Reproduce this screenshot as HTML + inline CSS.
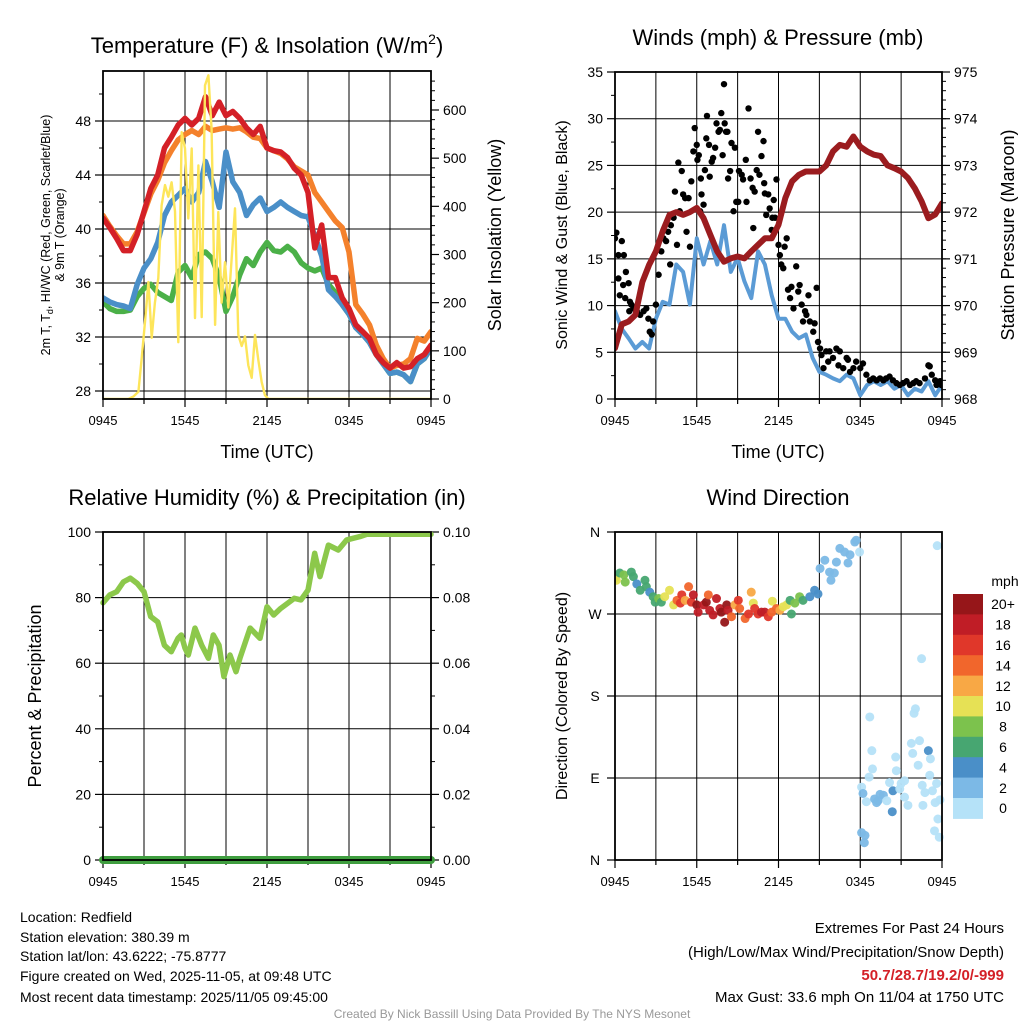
<!DOCTYPE html>
<html><head><meta charset="utf-8"><style>
html,body{margin:0;padding:0;background:#fff}
svg{display:block;font-family:"Liberation Sans",Arial,sans-serif}
</style></head><body>
<svg id="fig" width="1024" height="1024" viewBox="0 0 1024 1024" xmlns="http://www.w3.org/2000/svg">
<rect width="1024" height="1024" fill="#fff"/>
<g id="layer"></g>
<g fill="#000">
<text x="267" y="53" font-size="22" text-anchor="middle">Temperature (F) &amp; Insolation (W/m<tspan dy="-9" font-size="14">2</tspan><tspan dy="9">)</tspan></text>
<text x="778" y="45" font-size="22" text-anchor="middle">Winds (mph) &amp; Pressure (mb)</text>
<text x="267" y="505" font-size="22" text-anchor="middle">Relative Humidity (%) &amp; Precipitation (in)</text>
<text x="778" y="505" font-size="22" text-anchor="middle">Wind Direction</text>
<text x="267" y="458" font-size="18" text-anchor="middle">Time (UTC)</text>
<text x="778" y="458" font-size="18" text-anchor="middle">Time (UTC)</text>
<text font-size="12.5" text-anchor="middle" transform="translate(50,235) rotate(-90)">2m T, T<tspan dy="3" font-size="9">d</tspan><tspan dy="-3">, HI/WC (Red, Green, Scarlet/Blue)</tspan></text>
<text font-size="12.5" text-anchor="middle" transform="translate(64,235) rotate(-90)">&amp; 9m T (Orange)</text>
<text font-size="18" text-anchor="middle" transform="translate(501,235) rotate(-90)">Solar Insolation (Yellow)</text>
<text font-size="16" text-anchor="middle" transform="translate(567,235) rotate(-90)">Sonic Wind &amp; Gust (Blue, Black)</text>
<text font-size="18" text-anchor="middle" transform="translate(1014,235) rotate(-90)">Station Pressure (Maroon)</text>
<text font-size="18" text-anchor="middle" transform="translate(41,696) rotate(-90)">Percent &amp; Precipitation</text>
<text font-size="16" text-anchor="middle" transform="translate(567,696) rotate(-90)">Direction (Colored By Speed)</text>
</g>
<g font-size="14" fill="#000">
<text x="20" y="922">Location: Redfield</text>
<text x="20" y="942">Station elevation: 380.39 m</text>
<text x="20" y="961">Station lat/lon: 43.6222; -75.8777</text>
<text x="20" y="981">Figure created on Wed, 2025-11-05, at 09:48 UTC</text>
<text x="20" y="1002">Most recent data timestamp: 2025/11/05 09:45:00</text>
</g>
<g text-anchor="end" fill="#000">
<text x="1004" y="933" font-size="15">Extremes For Past 24 Hours</text>
<text x="1004" y="957" font-size="15">(High/Low/Max Wind/Precipitation/Snow Depth)</text>
<text x="1004" y="980" font-size="15" font-weight="bold" fill="#d42027">50.7/28.7/19.2/0/-999</text>
<text x="1004" y="1002" font-size="15">Max Gust: 33.6 mph On 11/04 at 1750 UTC</text>
</g>
<text x="512" y="1018" font-size="12" fill="#999" text-anchor="middle">Created By Nick Bassill Using Data Provided By The NYS Mesonet</text>
</svg>
<script>
// ---------- data ----------
const hours = [0,0.5,1,1.5,2,2.5,3,3.5,4,4.5,5,5.5,6,6.5,7,7.5,8,8.5,9,9.5,10,10.5,11,11.5,12,12.5,13,13.5,14,14.5,15,15.5,16,16.5,17,17.5,18,18.5,19,19.5,20,20.5,21,21.5,22,22.5,23,23.5,24];
const timeLabels = ["0945","1545","2145","0345","0945"];
const tempRed = [40.8,40.1,39.3,38.4,38.4,39.6,41.3,43.0,44.0,46.0,46.8,47.7,48.2,47.7,48.2,49.8,48.4,49.4,48.4,48.7,48.2,47.5,47.0,47.6,46.0,45.8,45.7,45.3,44.5,44.0,42.7,38.6,40.3,36.4,36.4,34.9,34.1,32.9,32.4,31.9,30.7,30.1,29.7,30.1,29.7,29.8,30.4,30.7,31.4];
const temp9mOrange = [41.0,40.2,39.5,38.9,38.9,39.8,41.2,42.6,43.6,44.9,45.8,46.6,47.0,47.3,47.0,47.6,47.3,47.4,47.5,47.4,47.5,47.2,46.8,46.7,46.0,45.8,45.6,45.2,44.6,44.3,44.0,42.7,42.0,41.3,40.6,40.1,38.3,34.4,33.7,32.9,31.4,30.4,29.7,29.9,30.0,30.4,31.9,31.7,32.4];
const dewGreen = [34.6,34.1,33.9,33.9,34.0,35.0,35.6,35.9,35.3,35.0,34.7,36.8,37.3,36.4,38.1,38.3,37.8,36.4,33.9,35.0,36.6,37.8,37.3,38.3,39.0,38.4,38.3,38.7,38.3,37.5,37.1,36.9,37.1,35.9,35.3,34.4,33.7,32.7,32.2,31.6,30.7,30.0,29.3,29.4,29.2,28.7,30.0,30.4,31.2];
const hiwcBlue = [34.9,34.6,34.4,34.3,34.1,35.9,37.1,37.8,39.0,41.0,42.0,42.5,43.0,42.0,42.7,45.0,43.5,41.6,45.7,43.5,42.7,41.0,41.8,42.3,41.3,41.6,42.0,41.6,41.3,41.0,40.9,39.5,38.0,35.5,35.0,34.4,33.7,32.7,32.2,31.6,30.7,30.0,29.3,29.4,29.2,28.7,30.0,30.4,31.2];
const insTimes = [0,1.85,2.22,2.59,2.83,3.07,3.32,3.56,3.8,4.05,4.29,4.54,4.78,5.02,5.27,5.51,5.76,6.0,6.24,6.49,6.73,6.98,7.22,7.46,7.71,7.95,8.2,8.44,8.68,8.93,9.17,9.41,9.66,9.9,10.15,10.39,10.63,10.88,11.12,11.37,11.61,11.85,12.1,24];
const insolation = [0,0,5,15,85,160,243,127,200,251,402,444,420,450,390,118,554,520,375,520,168,485,170,651,672,560,154,388,200,284,190,290,396,133,110,130,70,44,133,80,35,8,0,0];
const windSpeed = [9.4,7.5,6.5,5.4,6.1,5.4,8.6,10.4,10.1,14.4,13.6,10.1,17.2,14.4,16.9,14.4,18.6,13.6,15.1,12.6,10.8,15.8,14.4,11.1,8.6,8.6,7.2,6.5,6.9,4.4,2.9,2.6,2.2,1.9,2.6,2.2,0.4,1.5,1.9,1.5,1.9,1.1,1.5,0.4,1.1,0.8,1.9,0.4,1.5];
const pressure = [969.09,969.6,969.66,969.8,970.5,970.87,971.16,971.59,971.94,972.0,971.94,972.0,972.09,971.87,971.51,971.16,970.94,971.01,971.05,971.01,971.16,971.3,971.44,971.44,971.73,972.3,972.66,972.8,972.87,972.87,972.87,973.0,973.3,973.44,973.4,973.62,973.4,973.3,973.23,973.2,973.0,972.94,972.87,972.73,972.51,972.23,971.87,971.95,972.19];
const gustTimes = [0.0,0.1,0.25,0.5,0.65,0.25,0.6,0.8,1.0,0.35,0.75,1.1,1.2,1.35,1.6,1.05,1.85,2.1,2.3,2.45,2.55,2.7,2.8,3.0,3.2,3.4,3.55,3.75,3.9,4.05,4.1,4.3,4.4,4.55,4.65,4.75,4.9,5.0,5.15,5.25,5.4,5.5,5.6,5.75,5.85,6.0,6.05,6.15,6.25,6.3,6.35,6.5,6.6,6.7,6.75,6.9,6.95,7.1,7.2,7.35,7.45,7.6,7.7,7.8,7.9,8.0,8.05,8.15,8.25,8.3,8.45,8.55,8.7,8.8,8.9,9.05,9.1,9.3,9.4,9.6,9.65,9.8,9.95,10.1,10.15,10.25,10.4,10.5,10.6,10.75,10.9,10.95,11.0,11.1,11.25,11.35,11.5,11.55,11.65,11.75,11.85,12.0,12.1,12.2,12.35,12.45,12.6,12.7,12.85,12.95,13.1,13.3,13.45,13.55,13.7,13.8,13.95,14.05,14.2,14.3,14.55,14.65,14.8,14.9,15.05,15.15,15.3,15.5,15.65,15.75,16.0,16.25,16.4,16.5,16.75,17.0,17.1,17.25,17.5,17.7,18.0,18.2,18.45,18.7,18.95,19.2,19.45,19.7,19.9,20.15,20.4,20.65,20.9,21.15,21.4,21.65,21.9,22.1,22.35,22.75,23.0,23.1,23.25,23.5,23.6,23.85,23.95];
const gustValues = [17.2,17.8,15.4,16.9,15.4,12.9,12.2,13.6,12.4,11.1,10.8,10.4,10.1,9.7,9.4,9.4,9.0,9.4,9.7,8.6,7.2,6.9,8.3,10.1,13.3,15.8,17.2,16.9,17.9,14.4,18.6,19.4,22.2,16.5,25.3,20.1,24.4,21.9,21.5,17.9,21.5,16.3,23.3,26.5,29.0,27.2,25.6,26.1,20.1,23.6,21.9,20.8,24.5,27.9,30.3,27.2,23.8,25.4,25.8,26.9,29.5,28.6,28.8,30.6,26.1,33.7,29.5,28.6,28.6,23.6,24.4,27.4,20.1,26.9,21.1,21.1,24.4,24.0,23.5,25.6,21.1,31.1,23.6,22.6,18.3,22.2,24.5,28.6,24.0,26.0,27.6,23.1,22.0,19.7,21.9,20.4,18.1,19.4,21.3,19.4,23.5,16.5,15.4,14.4,14.0,16.3,17.2,11.7,10.8,12.0,9.7,14.2,11.5,12.2,10.1,8.3,9.4,9.0,11.1,8.3,7.2,8.1,11.9,6.1,5.4,4.7,3.3,5.1,4.0,5.1,4.4,5.4,3.6,5.1,3.3,4.4,4.2,2.9,3.3,4.0,3.3,3.8,2.6,2.0,2.2,2.0,2.2,2.0,2.2,2.4,2.0,1.7,1.5,1.7,1.9,1.5,1.7,1.9,1.7,2.2,3.6,3.5,2.6,2.0,1.5,1.9,1.5];
const rhTimes = [0,0.49,1,1.49,2,2.51,3,3.49,4,4.49,5,5.49,5.73,6,6.24,6.73,7.22,7.71,8.07,8.49,8.85,9.29,9.73,10.02,10.76,11.49,12,12.49,13,14,14.49,15,15.49,15.88,16.49,17.22,17.83,18.8,19.3,24];
const rhValues = [78.4,80.8,81.8,84.8,85.9,84.3,81.8,74.2,72.6,65.5,63.5,67.6,68.6,64.6,62.5,70.7,65.5,61.5,68.6,65.5,55.9,62.5,57.4,61.5,70.7,67.6,77.2,74.7,76.7,79.8,79.3,82.3,93.5,86.4,96.0,94.5,97.6,98.6,99.3,99.3];
const precipTimes = [0,24];
const precipValues = [0,0];
const dirTimes = [0,0.1,0.35,0.65,0.75,1.2,1.35,1.6,1.85,2.2,2.3,2.55,2.8,2.95,3.2,3.4,3.65,4.0,4.3,4.55,4.8,4.9,5.15,5.4,5.6,5.75,6.0,6.1,6.5,6.7,6.85,6.95,7.2,7.45,7.7,7.8,8.05,8.2,8.3,8.55,8.8,9.05,9.15,9.55,9.8,10.0,10.15,10.25,10.5,10.75,11.0,11.25,11.5,11.55,11.85,12.1,12.35,12.6,12.85,12.95,13.2,13.55,13.8,14.3,14.65,14.9,15.05,15.4,15.75,15.85,16.1,16.25,16.5,16.85,17.25,17.1,17.6,17.7,17.95,18.1,18.2,18.7,18.85,18.9,18.45,18.65,19.05,19.3,19.7,19.45,19.95,20.15,20.4,20.35,20.6,20.65,20.9,21.0,21.25,21.25,21.5,21.75,21.85,21.95,22.05,22.25,22.35,22.5,22.55,22.6,22.75,23.0,23.1,23.15,23.3,23.5,23.6,23.65,23.7,23.8,23.85,23.45,18.1,18.35,18.3,19.2];
const dirValues = [309,307,315,313,305,316,311,303,296,307,300,294,289,283,287,283,289,296,280,285,282,291,285,300,283,291,280,272,280,283,291,274,269,287,276,272,261,280,274,267,280,285,276,265,270,294,282,276,270,272,272,267,272,284,276,274,278,280,285,270,282,289,285,289,296,292,320,329,316,307,315,327,342,338,335,326,349,351,338,80,73,157,120,100,64,91,67,65,71,72,65,85,76,53,113,98,78,84,87,69,60,128,117,161,166,104,131,221,82,60,74,120,93,111,76,63,84,345,45,25,66,32,30,27,19,63];
const dirSpeeds = [8,10,6,8,8,6,6,4,6,6,6,4,6,6,8,6,10,10,10,14,16,16,12,14,16,18,20,18,18,20,14,18,18,18,18,20,20,20,18,14,12,16,14,14,16,12,10,16,16,18,18,16,14,10,14,12,10,10,6,6,8,8,6,4,4,4,2,2,2,2,2,2,2,2,2,2,2,2,0,0,2,0,0,0,0,0,2,2,2,2,0,0,4,4,0,0,0,0,0,0,0,0,0,0,0,0,0,0,0,0,0,4,0,0,0,0,0,0,0,0,0,0,2,2,2,2];
const speedBins = ["0","2","4","6","8","10","12","14","16","18","20+"];
const speedColors = ["#b5e2f8","#7cb9e6","#4a8fc8","#47a671","#7cc24d","#e6e155","#f8a845","#f1662c","#e0372a","#c01d26","#961619"];

// ---------- helpers ----------
const NS="http://www.w3.org/2000/svg";
const layer=document.getElementById('layer');
function mk(tag,attrs,parent){const e=document.createElementNS(NS,tag);for(const k in attrs)e.setAttribute(k,attrs[k]);(parent||layer).appendChild(e);return e;}
function lin(d0,d1,r0,r1){return v=>r0+(v-d0)*(r1-r0)/(d1-d0);}
function txt(x,y,s,size,anchor,parent){const t=mk('text',{x:x,y:y,'font-size':size,'text-anchor':anchor||'middle',fill:'#000'},parent);t.textContent=s;return t;}

function panel(name){
  const g=mk('g',{});
  
  
  return g;
}
function xAxis(g,X0,X1,Y1){
  const x=lin(0,24,X0,X1);
  for(let h=0;h<=24;h+=3){
    if(h>0&&h<24){const gl=mk('line',{x1:x(h),x2:x(h),y1:Y1,y2:Y1-328,stroke:'#000','stroke-width':1},g);}
    const tk=mk('line',{x1:x(h),x2:x(h),y1:Y1,y2:Y1+(h%6===0?8:5),stroke:'#000','stroke-width':1.2},g);
    
  }
  timeLabels.forEach((l,i)=>{const t=txt(x(i*6),Y1+26,l,13,'middle',g);});
  return x;
}
function yAxisLeft(g,scale,X0,X1,major,minor,fmt,grid){
  major.forEach(v=>{
    if(grid){const gl=mk('line',{x1:X0,x2:X1,y1:scale(v),y2:scale(v),stroke:'#000','stroke-width':1},g);}
    mk('line',{x1:X0-8,x2:X0,y1:scale(v),y2:scale(v),stroke:'#000','stroke-width':1.2},g);
    const t=txt(X0-12,scale(v)+5,fmt(v),14,'end',g);
  });
  minor.forEach(v=>mk('line',{x1:X0-4,x2:X0,y1:scale(v),y2:scale(v),stroke:'#000','stroke-width':1},g));
}
function yAxisRight(g,scale,X1,major,minor,fmt){
  major.forEach(v=>{
    mk('line',{x1:X1,x2:X1+8,y1:scale(v),y2:scale(v),stroke:'#000','stroke-width':1.2},g);
    const t=txt(X1+12,scale(v)+5,fmt(v),14,'start',g);
  });
  minor.forEach(v=>mk('line',{x1:X1,x2:X1+4,y1:scale(v),y2:scale(v),stroke:'#000','stroke-width':1},g));
}
function line(g,xs,ys,xf,yf,color,w,name){
  const p=mk('path',{d:xs.map((h,i)=>(i?'L':'M')+xf(h).toFixed(1)+','+yf(ys[i]).toFixed(1)).join(''),fill:'none',stroke:color,'stroke-width':w,'stroke-linejoin':'round','stroke-linecap':'round'},g);
  
  return p;
}
function frame(g,X0,X1,Y0,Y1){
  const r=mk('rect',{x:X0,y:Y0,width:X1-X0,height:Y1-Y0,fill:'none',stroke:'#000','stroke-width':1.8},g);
  
}
function range(a,b,s){const r=[];for(let v=a;v<=b+1e-9;v+=s)r.push(+v.toFixed(4));return r;}

// ---------- panel 1 ----------
(function(){
  const X0=103,X1=431,Y0=71,Y1=399;
  const g=panel('temperature-panel');
  const yT=lin(28,48,391,121);
  const yI=lin(0,600,399,110);
  yAxisLeft(g,yT,X0,X1,[28,32,36,40,44,48],range(30,50,2).filter(v=>v%4!==0),v=>String(v),true);
  yAxisRight(g,yI,X1,[0,100,200,300,400,500,600],range(20,660,20).filter(v=>v%100!==0),v=>String(v));
  const x=xAxis(g,X0,X1,Y1);
  const clip=mk('clipPath',{id:'c1'},g);mk('rect',{x:X0,y:Y0,width:X1-X0,height:Y1-Y0},clip);
  const d=mk('g',{'clip-path':'url(#c1)'},g);
  line(d,hours,temp9mOrange,x,yT,'#f4812c',5.5,'temp-9m-orange-line');
  line(d,hours,dewGreen,x,yT,'#4bb048',5.5,'dewpoint-green-line');
  line(d,hours,hiwcBlue,x,yT,'#4a8fc8',5.5,'hiwc-blue-line');
  line(d,hours,tempRed,x,yT,'#d42027',5.5,'temp-2m-red-line');
  line(d,insTimes,insolation,x,yI,'#fde55a',2.4,'insolation-yellow-line');
  frame(g,X0,X1,Y0,Y1);
})();

// ---------- panel 2 ----------
(function(){
  const X0=615,X1=942,Y0=72,Y1=399;
  const g=panel('wind-panel');
  const yW=lin(0,35,399,72);
  const yP=lin(968,975,399,72);
  yAxisLeft(g,yW,X0,X1,[0,5,10,15,20,25,30,35],range(2.5,32.5,5),v=>String(v),true);
  yAxisRight(g,yP,X1,[968,969,970,971,972,973,974,975],range(968.2,975,0.2),v=>String(v));
  const x=xAxis(g,X0,X1,Y1);
  const clip=mk('clipPath',{id:'c2'},g);mk('rect',{x:X0,y:Y0,width:X1-X0,height:Y1-Y0},clip);
  const d=mk('g',{'clip-path':'url(#c2)'},g);
  line(d,hours,windSpeed,x,yW,'#5b9bd5',4,'wind-speed-line');
  gustTimes.forEach((h,i)=>{
    const c=mk('circle',{cx:x(h),cy:yW(gustValues[i]),r:3.2,fill:'#000'},d);
    
    
  });
  line(d,hours,pressure,x,yP,'#9b1c1f',6,'pressure-line');
  frame(g,X0,X1,Y0,Y1);
})();

// ---------- panel 3 ----------
(function(){
  const X0=103,X1=431,Y0=532,Y1=860;
  const g=panel('humidity-panel');
  const yR=lin(0,100,860,532);
  const yPr=lin(0,0.1,860,532);
  yAxisLeft(g,yR,X0,X1,[0,20,40,60,80,100],range(10,90,20),v=>String(v),true);
  yAxisRight(g,yPr,X1,[0,0.02,0.04,0.06,0.08,0.1],range(0.01,0.09,0.02),v=>v.toFixed(2));
  const x=xAxis(g,X0,X1,Y1);
  const d=mk('g',{},g);
  line(d,rhTimes,rhValues,x,yR,'#8cc84b',5.5,'rh-line');
  line(d,precipTimes,precipValues,x,yPr,'#3f9e3f',8,'precip-line');
  frame(g,X0,X1,Y0,Y1);
})();

// ---------- panel 4 ----------
(function(){
  const X0=615,X1=942,Y0=532,Y1=860;
  const g=panel('wind-direction-panel');
  const yD=lin(0,360,860,532);
  const labs=['N','E','S','W','N'];
  [0,90,180,270,360].forEach((v,i)=>{
    const gl=mk('line',{x1:X0,x2:X1,y1:yD(v),y2:yD(v),stroke:'#000','stroke-width':1},g);
    
    mk('line',{x1:X0-8,x2:X0,y1:yD(v),y2:yD(v),stroke:'#000','stroke-width':1.2},g);
    const t=txt(X0-20,yD(v)+5,labs[i],14,'middle',g);
  });
  const x=xAxis(g,X0,X1,Y1);
  const clip=mk('clipPath',{id:'c4'},g);mk('rect',{x:X0,y:Y0-4,width:X1-X0+6,height:Y1-Y0+8},clip);
  const d=mk('g',{'clip-path':'url(#c4)'},g);
  dirTimes.forEach((h,i)=>{
    const bi=Math.min(10,Math.floor(dirSpeeds[i]/2));
    const c=mk('circle',{cx:x(h),cy:yD(dirValues[i]),r:4.5,fill:speedColors[bi],'fill-opacity':0.95},d);
    
    
  });
  frame(g,X0,X1,Y0,Y1);
  const cb=mk('g',{},g);
  
  
  txt(1005,586,'mph',14,'middle',cb);
  const bh=20.4,top=594;
  speedColors.slice().reverse().forEach((col,k)=>{
    const r=mk('rect',{x:953,y:top+k*bh,width:30,height:bh+0.5,fill:col},cb);
    
    
    const t=txt(1003,top+k*bh+bh/2+5,speedBins[10-k],14,'middle',cb);
    
    
  });
})();
</script>
</body></html>
